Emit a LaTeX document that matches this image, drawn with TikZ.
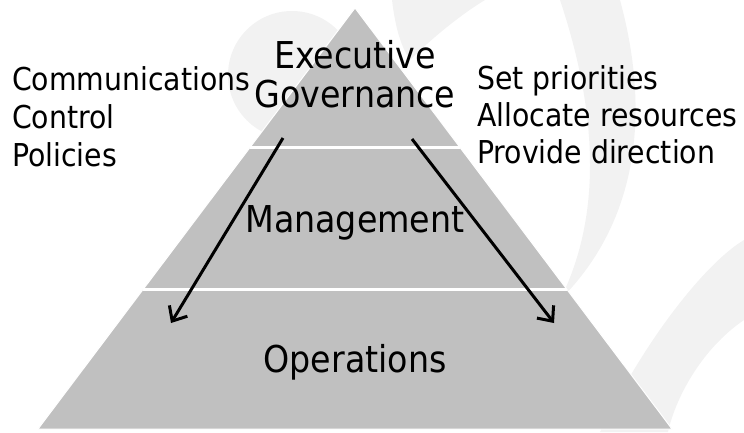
\documentclass[tikz,border=0pt]{standalone}
\usepackage{fontspec}
\setmainfont{DejaVu Sans Condensed}
\usetikzlibrary{arrows.meta}

\definecolor{tiergray}{RGB}{192,192,192}
\definecolor{watergray}{RGB}{242,242,242}

\tikzset{
  tierlabel/.style={anchor=base, font=\fontsize{37}{44}\selectfont},
  sidelabel/.style={anchor=base west, inner sep=0pt, font=\fontsize{31.5}{38}\selectfont},
  flow/.style={line width=3pt, -{Straight Barb[length=12pt,width=21pt,line width=3pt]}},
}

\begin{document}
\begin{tikzpicture}[x=1pt,y=-1pt]
      \useasboundingbox (0,0) rectangle (744,432);

      % faint watermark
      \fill[watergray] (292,75) circle[radius=64];
      \fill[watergray] (392,0) .. controls (395,25) and (400,45) .. (410,60)
                  .. controls (430,40) and (460,15) .. (485,0) -- cycle;
      \fill[watergray] (560,0) .. controls (600,120) and (600,220) .. (560,300)
                  .. controls (640,220) and (650,110) .. (620,0) -- cycle;
      \fill[watergray] (600,432) .. controls (650,330) and (710,260) .. (744,240)
                  -- (744,320) .. controls (700,350) and (675,400) .. (668,432) -- cycle;

      % pyramid
      \coordinate (apex) at (355,8);
      \coordinate (bl) at (38,429);
      \coordinate (br) at (672,429);
      \fill[tiergray, draw=white, line width=1pt] (apex) -- (br) -- (bl) -- cycle;
      \foreach \y/\xl/\xr in {147/250.3/459.7, 289/143.4/566.6} {
        \draw[white, line width=3pt] (\xl,\y) -- (\xr,\y);
      }

      \node[tierlabel] (exec) at (355,68) {Executive};
      \node[tierlabel] (gov) at (355,107) {Governance};
      \node[tierlabel] (mgmt) at (355,232) {Management};
      \node[tierlabel] (ops) at (355,372) {Operations};

      \foreach \t [count=\i] in {Communications,Control,Policies} {
        \node[sidelabel] (left\i) at (12,52+38*\i) {\t};
      }
      \foreach \t [count=\i] in {Set priorities,Allocate resources,Provide direction} {
        \node[sidelabel] (right\i) at (477,52+37*\i) {\t};
      }

      \coordinate (l0) at (283,138);
      \coordinate (l1) at (171,323);
      \coordinate (r0) at (412,139);
      \coordinate (r1) at (554,323);
      \draw[flow] (l0) -- (l1);
      \draw[flow] (r0) -- (r1);
    \end{tikzpicture}
\end{document}
